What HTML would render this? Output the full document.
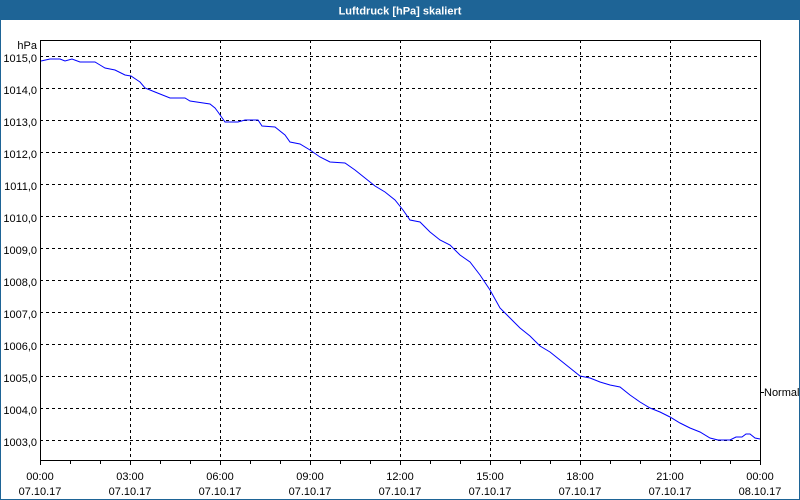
<!DOCTYPE html>
<html><head><meta charset="utf-8"><style>
html,body{margin:0;padding:0;width:800px;height:500px;overflow:hidden;background:#fff}
svg{display:block}
text{font-family:"Liberation Sans",sans-serif;font-size:11px;fill:#000}
</style></head><body>
<svg width="800" height="500" xmlns="http://www.w3.org/2000/svg">
<rect x="0" y="0" width="800" height="500" fill="#fff"/>
<rect x="0.5" y="0.5" width="799" height="499" fill="none" stroke="#1e6496"/>
<rect x="0" y="0" width="800" height="20" fill="#1e6496"/>
<text x="400" y="14.5" text-anchor="middle" style="fill:#fff;font-weight:bold;font-size:11px">Luftdruck [hPa] skaliert</text>
<g stroke="#000" stroke-dasharray="3,3" stroke-width="1">
<line x1="40" y1="56.5" x2="760" y2="56.5"/><line x1="40" y1="88.5" x2="760" y2="88.5"/><line x1="40" y1="120.5" x2="760" y2="120.5"/><line x1="40" y1="152.5" x2="760" y2="152.5"/><line x1="40" y1="184.5" x2="760" y2="184.5"/><line x1="40" y1="216.5" x2="760" y2="216.5"/><line x1="40" y1="248.5" x2="760" y2="248.5"/><line x1="40" y1="280.5" x2="760" y2="280.5"/><line x1="40" y1="312.5" x2="760" y2="312.5"/><line x1="40" y1="344.5" x2="760" y2="344.5"/><line x1="40" y1="376.5" x2="760" y2="376.5"/><line x1="40" y1="408.5" x2="760" y2="408.5"/><line x1="40" y1="440.5" x2="760" y2="440.5"/>
<line x1="130.5" y1="40" x2="130.5" y2="460"/><line x1="220.5" y1="40" x2="220.5" y2="460"/><line x1="310.5" y1="40" x2="310.5" y2="460"/><line x1="400.5" y1="40" x2="400.5" y2="460"/><line x1="490.5" y1="40" x2="490.5" y2="460"/><line x1="580.5" y1="40" x2="580.5" y2="460"/><line x1="670.5" y1="40" x2="670.5" y2="460"/>
</g>
<rect x="40.5" y="40.5" width="720" height="420" fill="none" stroke="#000"/>
<g stroke="#000">
<line x1="40.5" y1="460" x2="40.5" y2="465"/><line x1="70.5" y1="460" x2="70.5" y2="464"/><line x1="100.5" y1="460" x2="100.5" y2="464"/><line x1="130.5" y1="460" x2="130.5" y2="465"/><line x1="160.5" y1="460" x2="160.5" y2="464"/><line x1="190.5" y1="460" x2="190.5" y2="464"/><line x1="220.5" y1="460" x2="220.5" y2="465"/><line x1="250.5" y1="460" x2="250.5" y2="464"/><line x1="280.5" y1="460" x2="280.5" y2="464"/><line x1="310.5" y1="460" x2="310.5" y2="465"/><line x1="340.5" y1="460" x2="340.5" y2="464"/><line x1="370.5" y1="460" x2="370.5" y2="464"/><line x1="400.5" y1="460" x2="400.5" y2="465"/><line x1="430.5" y1="460" x2="430.5" y2="464"/><line x1="460.5" y1="460" x2="460.5" y2="464"/><line x1="490.5" y1="460" x2="490.5" y2="465"/><line x1="520.5" y1="460" x2="520.5" y2="464"/><line x1="550.5" y1="460" x2="550.5" y2="464"/><line x1="580.5" y1="460" x2="580.5" y2="465"/><line x1="610.5" y1="460" x2="610.5" y2="464"/><line x1="640.5" y1="460" x2="640.5" y2="464"/><line x1="670.5" y1="460" x2="670.5" y2="465"/><line x1="700.5" y1="460" x2="700.5" y2="464"/><line x1="730.5" y1="460" x2="730.5" y2="464"/><line x1="760.5" y1="460" x2="760.5" y2="465"/>
<line x1="760" y1="392.5" x2="764" y2="392.5"/>
</g>
<polyline fill="none" stroke="#0000ff" stroke-width="1" points="41,61 50,59 60,59 65,61 72,59 80,62 95,62 100,65 105,68 115,70 125,75 131,76 137,80 140,82 145,88 155,92 160,94 170,98 185,98 190,101 210,104 215,108 218,112 225,122 238,122 245,120 258,120 262,126 275,127 285,135 290,142 300,144 310,150 320,157 330,162 345,163 355,170 365,178 375,186 385,192 395,200 403,210 410,220 420,222 430,232 440,240 450,245 460,255 470,262 480,275 490,290 500,308 510,318 520,328 530,336 540,346 550,352 560,360 570,368 580,376 590,378 600,382 610,385 620,387 630,395 640,402 650,408 660,412 670,417 680,423 690,428 700,432 710,438 718,440 730,440 736,437 742,437 746,434 750,434 755,438 760,439"/>
<g text-anchor="end">
<text x="37" y="62">1015,0</text><text x="37" y="94">1014,0</text><text x="37" y="126">1013,0</text><text x="37" y="158">1012,0</text><text x="37" y="190">1011,0</text><text x="37" y="222">1010,0</text><text x="37" y="254">1009,0</text><text x="37" y="286">1008,0</text><text x="37" y="318">1007,0</text><text x="37" y="350">1006,0</text><text x="37" y="382">1005,0</text><text x="37" y="414">1004,0</text><text x="37" y="446">1003,0</text>
<text x="37" y="49">hPa</text>
</g>
<text x="764" y="396">Normal</text>
<g text-anchor="middle">
<text x="40" y="480">00:00</text><text x="40" y="495">07.10.17</text>
<text x="130" y="480">03:00</text><text x="130" y="495">07.10.17</text>
<text x="220" y="480">06:00</text><text x="220" y="495">07.10.17</text>
<text x="310" y="480">09:00</text><text x="310" y="495">07.10.17</text>
<text x="400" y="480">12:00</text><text x="400" y="495">07.10.17</text>
<text x="490" y="480">15:00</text><text x="490" y="495">07.10.17</text>
<text x="580" y="480">18:00</text><text x="580" y="495">07.10.17</text>
<text x="670" y="480">21:00</text><text x="670" y="495">07.10.17</text>
<text x="760" y="480">00:00</text><text x="760" y="495">08.10.17</text>
</g>
</svg>
</body></html>
